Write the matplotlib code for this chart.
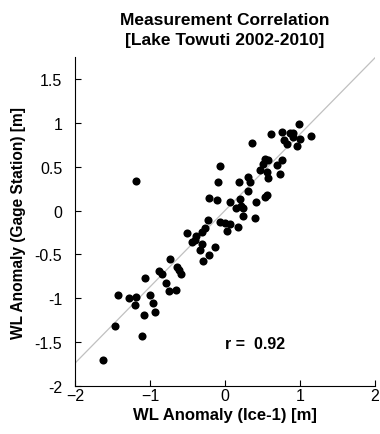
import matplotlib.pyplot as plt
import numpy as np

plt.rcParams['font.family'] = ['Liberation Sans', 'DejaVu Sans']

# WL anomaly pairs
ice1 = [-1.18, 0.98, 0.61, 0.76, 0.87, 0.91, 1.14, 0.79, 0.82, 0.91, 0.96, 1.00,
        0.36, -0.07, 0.53, 0.58, 0.51, 0.76, 0.69, 0.47, 0.56, 0.73, 0.31, 0.58,
        -0.09, 0.19, 0.33, 0.31, 0.56, 0.53, -0.21, -0.11, 0.20, 0.07, 0.41, 0.22,
        0.15, 0.24, 0.24, 0.40, -0.23, -0.07, 0.00, 0.07, 0.03, 0.18, -0.50, -0.27,
        -0.31, -0.38, -0.44, -0.40, -0.30, -0.13, -0.33, -0.21, -0.29, -0.73, -0.88,
        -0.84, -0.64, -0.61, -0.58, -1.06, -0.78, -0.74, -0.65, -1.42, -1.28, -1.19,
        -1.20, -1.00, -0.96, -1.08, -0.93, -1.46, -1.10, -1.62]
gage = [0.34, 0.98, 0.87, 0.89, 0.88, 0.88, 0.85, 0.80, 0.76, 0.84, 0.73, 0.82,
        0.77, 0.51, 0.59, 0.57, 0.53, 0.57, 0.52, 0.46, 0.44, 0.42, 0.38, 0.37,
        0.33, 0.33, 0.33, 0.22, 0.18, 0.15, 0.14, 0.12, 0.13, 0.10, 0.10, 0.05,
        0.03, 0.03, -0.06, -0.09, -0.11, -0.13, -0.14, -0.15, -0.23, -0.19, -0.26, -0.20,
        -0.24, -0.29, -0.36, -0.34, -0.38, -0.41, -0.45, -0.51, -0.58, -0.55, -0.69,
        -0.72, -0.64, -0.68, -0.72, -0.77, -0.83, -0.92, -0.91, -0.96, -1.00, -0.99,
        -1.08, -0.96, -1.05, -1.19, -1.15, -1.32, -1.43, -1.70]
fit_slope = 0.87
r_value = 0.92

fig = plt.figure(figsize=(3.8, 4.35), dpi=100)
ax = fig.add_axes([0.197, 0.110, 0.79, 0.757])

xl = np.array([-2, 2])
ax.plot(xl, fit_slope * xl, color='#c0c0c0', lw=0.9, zorder=1)
ax.scatter(ice1, gage, s=34, color='black', zorder=2, linewidths=0)

ax.set_xlim(-2, 2)
ax.set_ylim(-2, 1.75)
ax.set_xticks([-2, -1, 0, 1, 2])
ax.set_yticks([-2, -1.5, -1, -0.5, 0, 0.5, 1, 1.5])
ax.set_yticklabels(['-2', '-1.5', '-1', '-0.5', '0', '0.5', '1', '1.5'])
ax.tick_params(direction='in', length=4, labelsize=11.5, width=0.8)
ax.tick_params(axis='x', pad=1.5)
ax.tick_params(axis='y', pad=9)
for s in ['top', 'right']:
    ax.spines[s].set_visible(False)

ax.text(0.0, -1.51, 'r =  %.2f' % r_value, fontsize=11.5, fontweight='bold', va='center')
ax.set_xlabel('WL Anomaly (Ice-1) [m]', fontsize=12, fontweight='bold', labelpad=3)
ax.set_ylabel('WL Anomaly (Gage Station) [m]', fontsize=11.2, fontweight='bold', labelpad=6)
ax.set_title('Measurement Correlation\n[Lake Towuti 2002-2010]', fontsize=12.5,
             fontweight='bold', pad=9, linespacing=1.45)

fig.savefig('out.png')
